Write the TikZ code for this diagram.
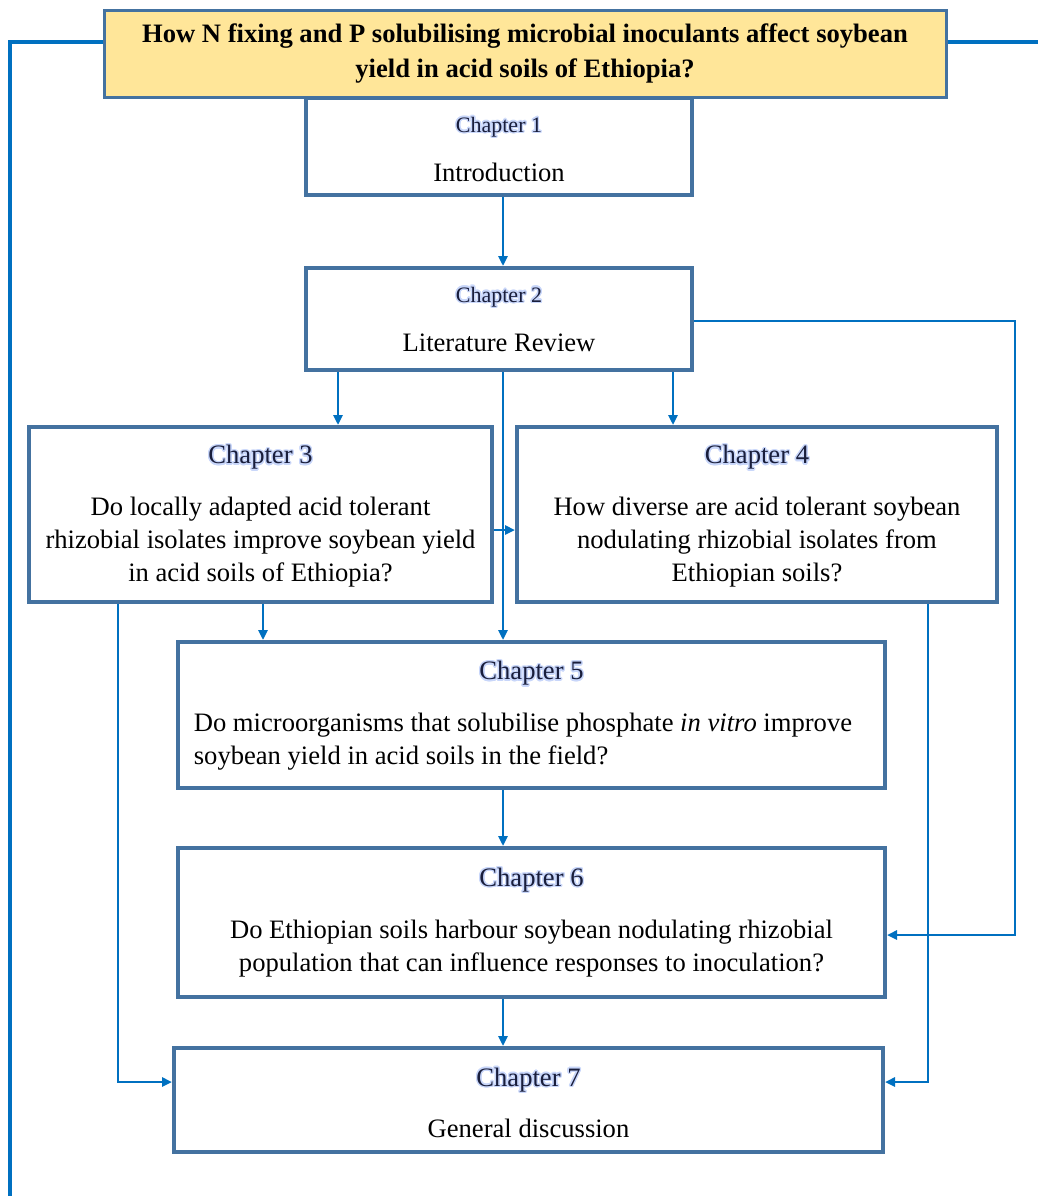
\documentclass[tikz,border=0pt]{standalone}
\usepackage{fontspec}
\setmainfont{Liberation Serif}
\usepackage{contour}
\usetikzlibrary{arrows.meta,calc}
\definecolor{boxline}{RGB}{68,114,160}
\definecolor{linkblue}{RGB}{0,112,192}
\definecolor{qfill}{RGB}{255,230,153}
\definecolor{chapink}{RGB}{25,30,60}
\definecolor{chapglow}{RGB}{200,214,250}
\contourlength{0.7pt}
\def\chap#1{\textcolor{chapink}{\contour{chapglow}{#1}}}
\def\smallchap#1{{\fontsize{11}{13}\selectfont\chap{#1}}}

\begin{document}
\begin{tikzpicture}[x=0.5pt,y=-0.5pt,
		chapbox/.style={draw=boxline, line width=2pt, fill=white, inner sep=0pt, align=center, font=\fontsize{13.3}{16.5}\selectfont},
		link/.style={draw=linkblue, line width=1.25pt, -{Triangle[length=5pt,width=4.5pt]}},
		frame/.style={draw=linkblue, line width=2pt}]
				\useasboundingbox (0,0) rectangle (1038,1196);
				
				\node[draw=boxline, line width=1.5pt, fill=qfill, minimum width=421pt, minimum height=43.5pt, align=center, font=\fontsize{13.3}{17.5}\selectfont\bfseries] (title) at (525,53.5)
					{How N fixing and P solubilising microbial inoculants affect soybean\\ yield in acid soils of Ethiopia?};
				
				\node[chapbox, minimum width=193pt, minimum height=48.5pt] (c1) at (499,146.5) {\rule{0pt}{10.5pt}\smallchap{Chapter 1}\\[8pt] Introduction};
				\node[chapbox, minimum width=193pt, minimum height=51pt] (c2) at (499,319) {\smallchap{Chapter 2}\\[8pt] Literature Review};
				
				\node[chapbox, minimum width=231.5pt, minimum height=87.5pt] (c3) at (260.5,514.5)
					{\rule{0pt}{11.2pt}\chap{Chapter 3}\\[9.5pt] Do locally adapted acid tolerant\\ rhizobial isolates improve soybean yield\\ in acid soils of Ethiopia?};
				\node[chapbox, minimum width=240pt, minimum height=87.5pt] (c4) at (757,514.5)
					{\rule{0pt}{11.2pt}\chap{Chapter 4}\\[9.5pt] How diverse are acid tolerant soybean\\ nodulating rhizobial isolates from\\ Ethiopian soils?};
				
				\node[chapbox, minimum width=353.5pt, minimum height=73pt] (c5) at (531.5,715)
					{\rule{0pt}{12.4pt}\chap{Chapter 5}\\[9.5pt] \hspace*{-8.5pt}\begin{tabular}[t]{@{}l@{}}Do microorganisms that solubilise phosphate \textit{in vitro} improve\\ soybean yield in acid soils in the field?\end{tabular}};
				\node[chapbox, minimum width=353.5pt, minimum height=74.5pt] (c6) at (531.5,922.5)
					{\chap{Chapter 6}\\[9.5pt] Do Ethiopian soils harbour soybean nodulating rhizobial\\ population that can influence responses to inoculation?};
				\node[chapbox, minimum width=354.5pt, minimum height=52pt] (c7) at (528.5,1100) {\rule{0pt}{12pt}\chap{Chapter 7}\\[9pt] General discussion};
				
				\coordinate (lbot) at (10,1196);
				\coordinate (rend) at (1038,42);
				\draw[frame] (title.west |- 0,42) -| (lbot);
				\draw[frame] (title.east |- 0,42) -- (rend);
				
				\draw[link] (c1.south -| 503,0) -- (c2.north -| 503,0);
				\draw[link] (c2.south -| 338,0) -- (c3.north -| 338,0);
				\draw[link] (c2.south -| 673,0) -- (c4.north -| 673,0);
				\draw[link] (c2.south -| 503,0) -- (c5.north -| 503,0);
				\draw[link] (c2.east |- 0,321) -| (1015,935) -- (c6.east |- 0,935);
				
				\draw[link] (c3.east |- 0,530) -- (c4.west |- 0,530);
				\draw[link] (c3.south -| 263,0) -- (c5.north -| 263,0);
				\draw[link] (c3.south -| 118,0) |- (c7.west |- 0,1082);
				\draw[link] (c4.south -| 928,0) |- (c7.east |- 0,1082);
				
				\draw[link] (c5.south -| 503,0) -- (c6.north -| 503,0);
				\draw[link] (c6.south -| 503,0) -- (c7.north -| 503,0);
			\end{tikzpicture}
\end{document}
